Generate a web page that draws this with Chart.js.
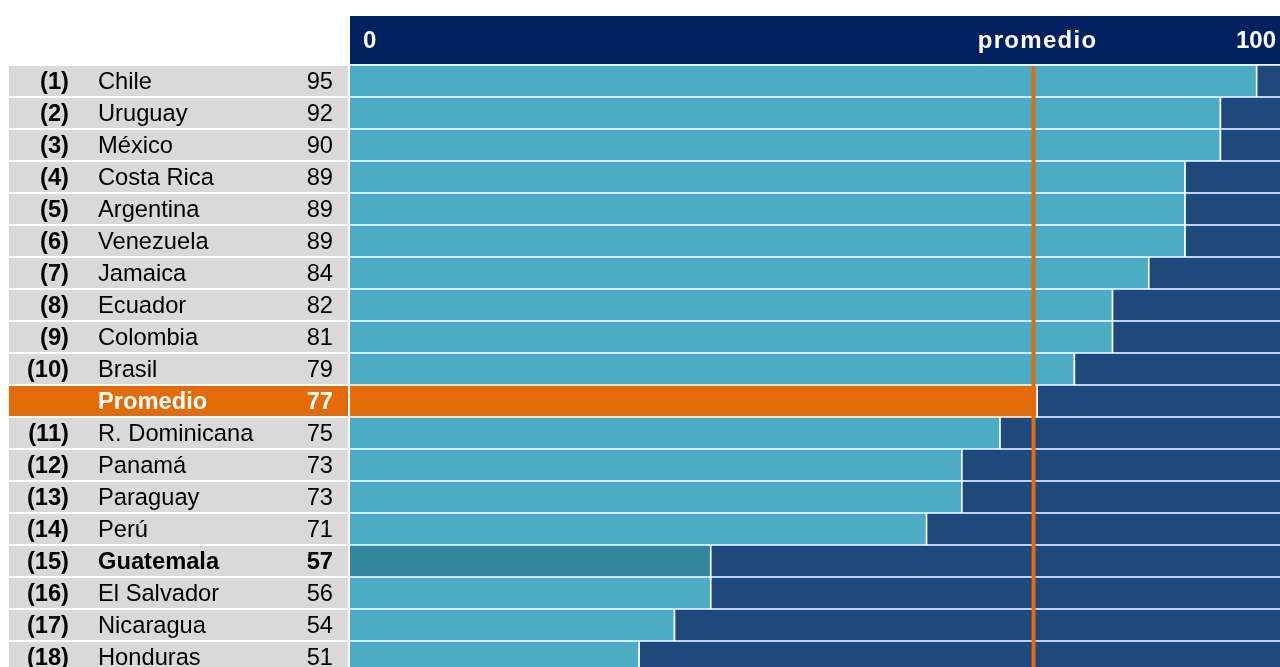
<!DOCTYPE html>
<html lang="es">

<head>
    <meta charset="UTF-8">
    <title>Ranking</title>
    <script src="https://cdn.jsdelivr.net/npm/chart.js@4.4.0/dist/chart.umd.min.js"></script>
    <style>
        html, body {
            margin: 0;
            padding: 0;
            background: #ffffff;
            overflow: hidden;
        }
    </style>
</head>

<body>
    <canvas id="chart" width="1280" height="673"></canvas>

    <script>
        const ranks = ['(1)', '(2)', '(3)', '(4)', '(5)', '(6)', '(7)', '(8)', '(9)', '(10)', '',
            '(11)', '(12)', '(13)', '(14)', '(15)', '(16)', '(17)', '(18)'];
        const countries = ['Chile', 'Uruguay', 'México', 'Costa Rica', 'Argentina', 'Venezuela', 'Jamaica',
            'Ecuador', 'Colombia', 'Brasil', 'Promedio', 'R. Dominicana', 'Panamá', 'Paraguay', 'Perú',
            'Guatemala', 'El Salvador', 'Nicaragua', 'Honduras'];
        const scores = [95, 92, 90, 89, 89, 89, 84, 82, 81, 79, 77, 75, 73, 73, 71, 57, 56, 54, 51];
        // bar lengths as drawn in the picture (0-100 scale)
        const barLengths = [97.4, 93.5, 93.5, 89.7, 89.7, 89.7, 85.8, 81.9, 81.9, 77.8, 73.8,
            69.8, 65.7, 65.7, 61.9, 38.7, 38.7, 34.8, 31.0];
        const promedioLine = 73.5;
        const axisLabels = ['0', 'promedio', '100'];

        const FONT = "'Liberation Sans', Arial, sans-serif";
        const ORANGE = '#E36C09';

        const rowColor = countries.map(c => c === 'Promedio' ? ORANGE : (c === 'Guatemala' ? '#31859C' : '#4BACC6'));
        const rest = barLengths.map(v => 100 - v);

        const tablePlugin = {
            id: 'table',
            beforeDraw(chart) {
                const ctx = chart.ctx;
                const x = chart.scales.x;
                const y = chart.scales.y;
                const half = 16;
                ctx.save();
                // header band
                ctx.fillStyle = '#002060';
                ctx.fillRect(x.left, 16, x.right - x.left, 48);
                ctx.fillStyle = '#ffffff';
                ctx.font = 'bold 24px ' + FONT;
                ctx.textBaseline = 'alphabetic';
                ctx.textAlign = 'left';
                ctx.fillText(axisLabels[0], x.getPixelForValue(0) + 13, 48);
                ctx.textAlign = 'right';
                ctx.fillText(axisLabels[2], x.getPixelForValue(100) - 4, 48);
                ctx.textAlign = 'center';
                ctx.letterSpacing = '1.3px';
                ctx.fillText(axisLabels[1], x.getPixelForValue(promedioLine) + 4, 48);
                ctx.letterSpacing = '0px';

                // left table
                countries.forEach((c, i) => {
                    const cy = y.getPixelForValue(i);
                    const isAvg = c === 'Promedio';
                    const isGt = c === 'Guatemala';
                    ctx.fillStyle = isAvg ? ORANGE : '#D9D9D9';
                    ctx.fillRect(9, cy - half + 1, 339, 2 * half - 2);
                    ctx.fillStyle = isAvg ? '#ffffff' : '#000000';
                    ctx.textBaseline = 'alphabetic';
                    ctx.font = 'bold 23.7px ' + FONT;
                    ctx.textAlign = 'right';
                    ctx.fillText(ranks[i], 69, cy + 8);
                    ctx.font = (isAvg || isGt ? 'bold ' : '') + '23.7px ' + FONT;
                    ctx.textAlign = 'left';
                    ctx.fillText(c, 98, cy + 8);
                    ctx.textAlign = 'right';
                    ctx.fillText(scores[i], 333, cy + 8);
                });
                ctx.restore();
            },
            afterDatasetsDraw(chart) {
                const ctx = chart.ctx;
                const x = chart.scales.x;
                const px = x.getPixelForValue(promedioLine);
                ctx.save();
                ctx.fillStyle = ORANGE;
                ctx.fillRect(px - 2, chart.chartArea.top + 1, 4, chart.chartArea.bottom - chart.chartArea.top);
                ctx.restore();
            }
        };

        const ctx = document.getElementById('chart').getContext('2d');
        const myChart = new Chart(ctx, {
            type: 'bar',
            data: {
                labels: countries,
                datasets: [{
                    data: barLengths,
                    backgroundColor: rowColor,
                    borderColor: '#ffffff',
                    borderWidth: { top: 1, bottom: 1, left: 0, right: 0 },
                    borderSkipped: false
                }, {
                    data: rest,
                    backgroundColor: '#1F497D',
                    borderColor: '#ffffff',
                    borderWidth: { top: 1, bottom: 1, left: 2, right: 0 },
                    borderSkipped: false
                }]
            },
            options: {
                indexAxis: 'y',
                responsive: false,
                animation: false,
                layout: {
                    padding: { left: 350, top: 65, right: 0, bottom: 0 }
                },
                datasets: {
                    bar: { barPercentage: 1, categoryPercentage: 1 }
                },
                scales: {
                    x: { stacked: true, min: 0, max: 100, display: false },
                    y: { stacked: true, display: false }
                },
                plugins: {
                    legend: { display: false },
                    tooltip: { enabled: false }
                }
            },
            plugins: [tablePlugin]
        });
    </script>

</body>

</html>
